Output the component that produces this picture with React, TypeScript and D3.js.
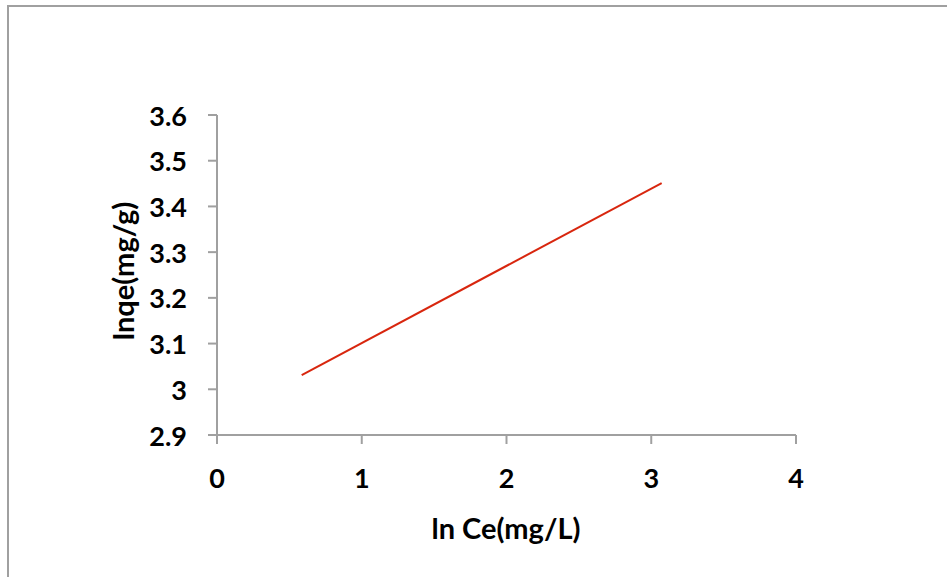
import React from "react";
import * as d3 from "d3";

const xTicks = [0, 1, 2, 3, 4];
const yTicks = [2.9, 3, 3.1, 3.2, 3.3, 3.4, 3.5, 3.6];
const lnCe = [0.585, 3.072];
const lnqe = [3.031, 3.451];
const xTitle = "ln Ce(mg/L)";
const yTitle = "lnqe(mg/g)";

const W = 947;
const H = 577;
const FONT = "Lato, 'Open Sans', sans-serif";

export default function App() {
  const x = d3.scaleLinear().domain([0, 4]).range([217, 796]);
  const y = d3.scaleLinear().domain([2.9, 3.6]).range([435, 115]);
  const pts = lnCe.map((v, i) => [v, lnqe[i]] as [number, number]);
  const line = d3
    .line<[number, number]>()
    .x((d) => x(d[0]))
    .y((d) => y(d[1]));
  const axisColor = "#a0a0a0";

  return (
    <svg
      width={W}
      height={H}
      style={{ position: "absolute", left: 0, top: 0, background: "#fff" }}
    >
      <rect x={8} y={6} width={W + 20} height={H + 20} fill="#fff" stroke={axisColor} strokeWidth={2} />
      {/* y axis */}
      <line x1={x(0)} x2={x(0)} y1={y(3.6)} y2={y(2.9)} stroke={axisColor} strokeWidth={2} />
      {yTicks.map((t) => (
        <g key={t}>
          <line x1={x(0) - 9} x2={x(0)} y1={y(t)} y2={y(t)} stroke={axisColor} strokeWidth={2} />
          <text
            x={187}
            y={y(t)}
            textAnchor="end"
            dominantBaseline="central"
            fontFamily={FONT}
            fontWeight="bold"
            fontSize={27}
            fill="#000"
          >
            {String(t)}
          </text>
        </g>
      ))}
      {/* x axis */}
      <line x1={x(0) - 9} x2={x(4)} y1={y(2.9)} y2={y(2.9)} stroke={axisColor} strokeWidth={2} />
      {xTicks.map((t) => (
        <g key={t}>
          <line x1={x(t)} x2={x(t)} y1={y(2.9)} y2={y(2.9) + 9} stroke={axisColor} strokeWidth={2} />
          <text
            x={x(t)}
            y={477}
            textAnchor="middle"
            dominantBaseline="central"
            fontFamily={FONT}
            fontWeight="bold"
            fontSize={27}
            fill="#000"
          >
            {String(t)}
          </text>
        </g>
      ))}
      <path d={line(pts) ?? ""} fill="none" stroke="#d8260e" strokeWidth={2} />
      <text
        x={506}
        y={527}
        textAnchor="middle"
        dominantBaseline="central"
        fontFamily={FONT}
        fontWeight="bold"
        fontSize={29}
        fill="#000"
      >
        {xTitle}
      </text>
      <text
        transform={`translate(122, 271) rotate(-90)`}
        textAnchor="middle"
        dominantBaseline="central"
        fontFamily={FONT}
        fontWeight="bold"
        fontSize={29}
        fill="#000"
      >
        {yTitle}
      </text>
    </svg>
  );
}
